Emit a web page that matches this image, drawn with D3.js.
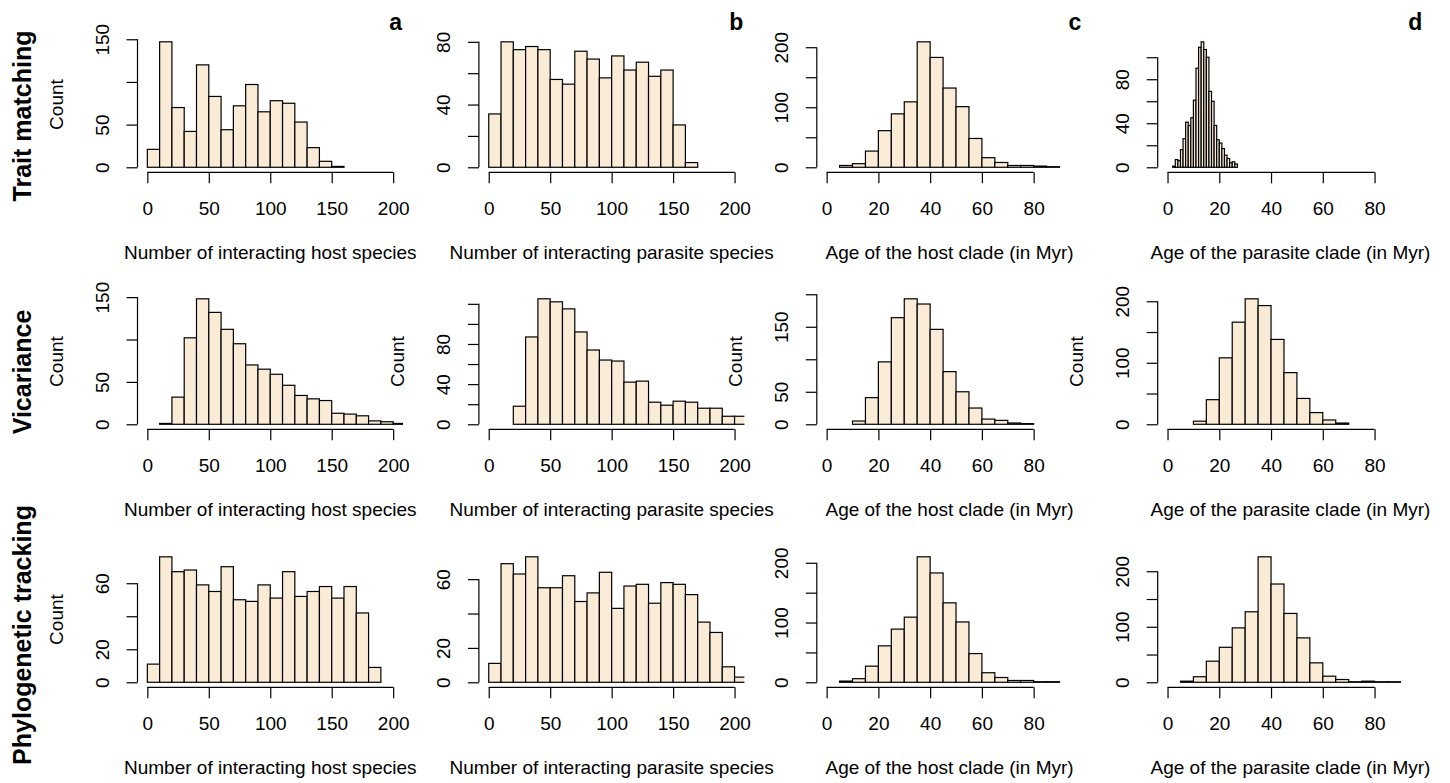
<!DOCTYPE html>
<html><head><meta charset="utf-8">
<script src="https://cdn.jsdelivr.net/npm/d3@7"></script>
<style>html,body{margin:0;padding:0;background:#fff;} svg{display:block;}</style>
</head><body>
<svg id="chart" width="1450" height="783"></svg>
<script>
// ---------- data ----------
const rowLabels = ["Trait matching", "Vicariance", "Phylogenetic tracking"];
const panelLetters = ["a", "b", "c", "d"];
const xTitles = ["Number of interacting host species", "Number of interacting parasite species",
                 "Age of the host clade (in Myr)", "Age of the parasite clade (in Myr)"];
const yTitle = "Count";
const speciesTicks = [0, 50, 100, 150, 200];
const ageTicks = [0, 20, 40, 60, 80];
const speciesXlim = [0, 200];
const ageXlim = [0, 95];

// counts per bin (bin start, bin width given alongside)
const traitHost      = [21,147,70,42,120,83,44,72,97,65,78,75,53,23,7,1];
const traitParasite  = [34,80,75,77,75,56,53,74,69,57,71,62,67,58,62,27,3];
const traitHostAge   = [3,6,27,61,89,109,209,183,132,101,48,16,8,3,3,2,1];
const traitParAge    = [1,7,6,16,26,41,38,45,61,90,109,114,107,100,69,60,38,25,22,17,11,8,4,5,3];
const vicHost        = [1,32,102,148,132,112,95,70,65,59,46,34,30,28,13,12,10,4,3,1];
const vicParasite    = [18,87,125,122,115,92,74,64,63,42,43,22,19,23,22,16,16,8,8];
const vicHostAge     = [5,41,96,164,193,185,146,81,50,25,8,6,2,1];
const vicParAge      = [5,40,108,166,204,193,138,84,42,19,7,2];
const phyHost        = [11,76,67,68,59,55,70,50,49,59,51,67,52,55,58,51,58,42,9];
const phyParasite    = [11,69,63,73,55,55,62,47,52,64,43,56,57,46,58,57,51,35,29,9,3];
const phyHostAge     = [2,6,27,61,89,109,210,183,133,101,48,16,8,3,3,1,1];
const phyParAge      = [2,10,38,63,98,127,226,177,124,80,35,11,5,1,2,1,1];

const ticks50  = [0, 50, 100, 150];
const ticks50b = [0, 50, 100, 150, 200];
const ticks20  = [0, 20, 40, 60, 80];
const ticks20b = [0, 20, 40, 60, 80, 100];
const ticks20c = [0, 20, 40, 60, 80, 100, 120];
const ticks20d = [0, 20, 40, 60];

const panels = [
  {row:0, col:0, counts:traitHost,     start:0,  width:10, yTicks:ticks50,  yLabels:[0,50,150],  ylab:true},
  {row:0, col:1, counts:traitParasite, start:0,  width:10, yTicks:ticks20,  yLabels:[0,40,80],   ylab:false},
  {row:0, col:2, counts:traitHostAge,  start:5,  width:5,  yTicks:ticks50b, yLabels:[0,100,200], ylab:false},
  {row:0, col:3, counts:traitParAge,   start:2,  width:1,  yTicks:ticks20b, yLabels:[0,40,80],   ylab:false},
  {row:1, col:0, counts:vicHost,       start:10, width:10, yTicks:ticks50,  yLabels:[0,50,150],  ylab:true},
  {row:1, col:1, counts:vicParasite,   start:20, width:10, yTicks:ticks20c, yLabels:[0,40,80],   ylab:true},
  {row:1, col:2, counts:vicHostAge,    start:10, width:5,  yTicks:ticks50b, yLabels:[0,50,150],  ylab:true},
  {row:1, col:3, counts:vicParAge,     start:10, width:5,  yTicks:ticks50b, yLabels:[0,100,200], ylab:true},
  {row:2, col:0, counts:phyHost,       start:0,  width:10, yTicks:ticks20d, yLabels:[0,20,60],   ylab:true},
  {row:2, col:1, counts:phyParasite,   start:0,  width:10, yTicks:ticks20d, yLabels:[0,20,60],   ylab:false},
  {row:2, col:2, counts:phyHostAge,    start:5,  width:5,  yTicks:ticks50b, yLabels:[0,100,200], ylab:false},
  {row:2, col:3, counts:phyParAge,     start:5,  width:5,  yTicks:ticks50b, yLabels:[0,100,200], ylab:false}
];

// ---------- layout ----------
const FONT = "'Liberation Sans', Arial, Helvetica, sans-serif";
const colLeft = [137.5, 478.9, 816.8, 1157.7];
const rowBottom = [172.3, 429.3, 687.3];
const plotW = 265.5, plotH = 135.5;
const rowLabelY = [116, 372, 635];
const FILL = "#FAEBD7";
const LW = 1.2;

const svg = d3.select("#chart");
const defs = svg.append("defs");

panels.forEach((p, i) => {
  const left = colLeft[p.col], right = left + plotW;
  const bottom = rowBottom[p.row], top = bottom - plotH;
  const xl = p.col < 2 ? speciesXlim : ageXlim;
  const xr = xl[1] - xl[0];
  const x = d3.scaleLinear().domain([xl[0] - 0.04 * xr, xl[1] + 0.04 * xr]).range([left, right]);
  const ymax = d3.max(p.counts);
  const y = d3.scaleLinear().domain([-0.04 * ymax, 1.04 * ymax]).range([bottom, top]);

  const clipId = "clip" + i;
  defs.append("clipPath").attr("id", clipId).append("rect")
    .attr("x", left).attr("y", top - 2).attr("width", plotW).attr("height", plotH + 2);

  const g = svg.append("g");
  const bins = p.counts.map((c, k) => ({x0: p.start + k * p.width, x1: p.start + (k + 1) * p.width, n: c}));
  g.append("g").attr("clip-path", `url(#${clipId})`)
    .selectAll("rect").data(bins).join("rect")
    .attr("x", d => x(d.x0)).attr("width", d => x(d.x1) - x(d.x0))
    .attr("y", d => y(d.n)).attr("height", d => y(0) - y(d.n))
    .attr("fill", FILL).attr("stroke", "#000").attr("stroke-width", LW);

  // x axis
  const xTicks = p.col < 2 ? speciesTicks : ageTicks;
  const xa = g.append("g").attr("transform", `translate(0,${bottom})`)
    .call(d3.axisBottom(x).tickValues(xTicks).tickSize(11).tickSizeOuter(0).tickFormat(d3.format("d")));
  xa.select(".domain").remove();
  xa.append("line").attr("x1", x(xTicks[0])).attr("x2", x(xTicks[xTicks.length - 1]))
    .attr("y1", 0).attr("y2", 0).attr("stroke", "#000").attr("stroke-width", LW);
  xa.selectAll(".tick line").attr("stroke", "#000").attr("stroke-width", LW);
  xa.selectAll(".tick text").attr("y", 43).attr("dy", null)
    .attr("font-family", FONT).attr("font-size", 19).attr("fill", "#000");

  // y axis
  const ya = g.append("g").attr("transform", `translate(${left},0)`)
    .call(d3.axisLeft(y).tickValues(p.yTicks).tickSize(11).tickSizeOuter(0)
      .tickFormat(d => p.yLabels.includes(d) ? d : ""));
  ya.select(".domain").remove();
  ya.append("line").attr("y1", y(p.yTicks[0])).attr("y2", y(p.yTicks[p.yTicks.length - 1]))
    .attr("x1", 0).attr("x2", 0).attr("stroke", "#000").attr("stroke-width", LW);
  ya.selectAll(".tick line").attr("stroke", "#000").attr("stroke-width", LW);
  ya.selectAll(".tick text").attr("x", 0).attr("y", -29).attr("dy", null)
    .attr("text-anchor", "middle").attr("transform", "rotate(-90)")
    .attr("font-family", FONT).attr("font-size", 19).attr("fill", "#000");

  // x title
  svg.append("text").attr("x", (left + right) / 2).attr("y", bottom + 87)
    .attr("text-anchor", "middle").attr("font-family", FONT).attr("font-size", 19)
    .text(xTitles[p.col]);

  // y title
  if (p.ylab) {
    svg.append("text").attr("transform", `translate(${left - 75},${(top + bottom) / 2}) rotate(-90)`)
      .attr("text-anchor", "middle").attr("font-family", FONT).attr("font-size", 19)
      .text(yTitle);
  }

  // panel letter
  if (p.row === 0) {
    svg.append("text").attr("x", right - 1).attr("y", 30).attr("text-anchor", "end")
      .attr("font-family", FONT).attr("font-weight", "bold").attr("font-size", 23)
      .text(panelLetters[p.col]);
  }
});

rowLabels.forEach((t, r) => {
  svg.append("text").attr("transform", `translate(31,${rowLabelY[r]}) rotate(-90)`)
    .attr("text-anchor", "middle").attr("font-family", FONT).attr("font-weight", "bold")
    .attr("font-size", 25).text(t);
});
</script>
</body></html>
